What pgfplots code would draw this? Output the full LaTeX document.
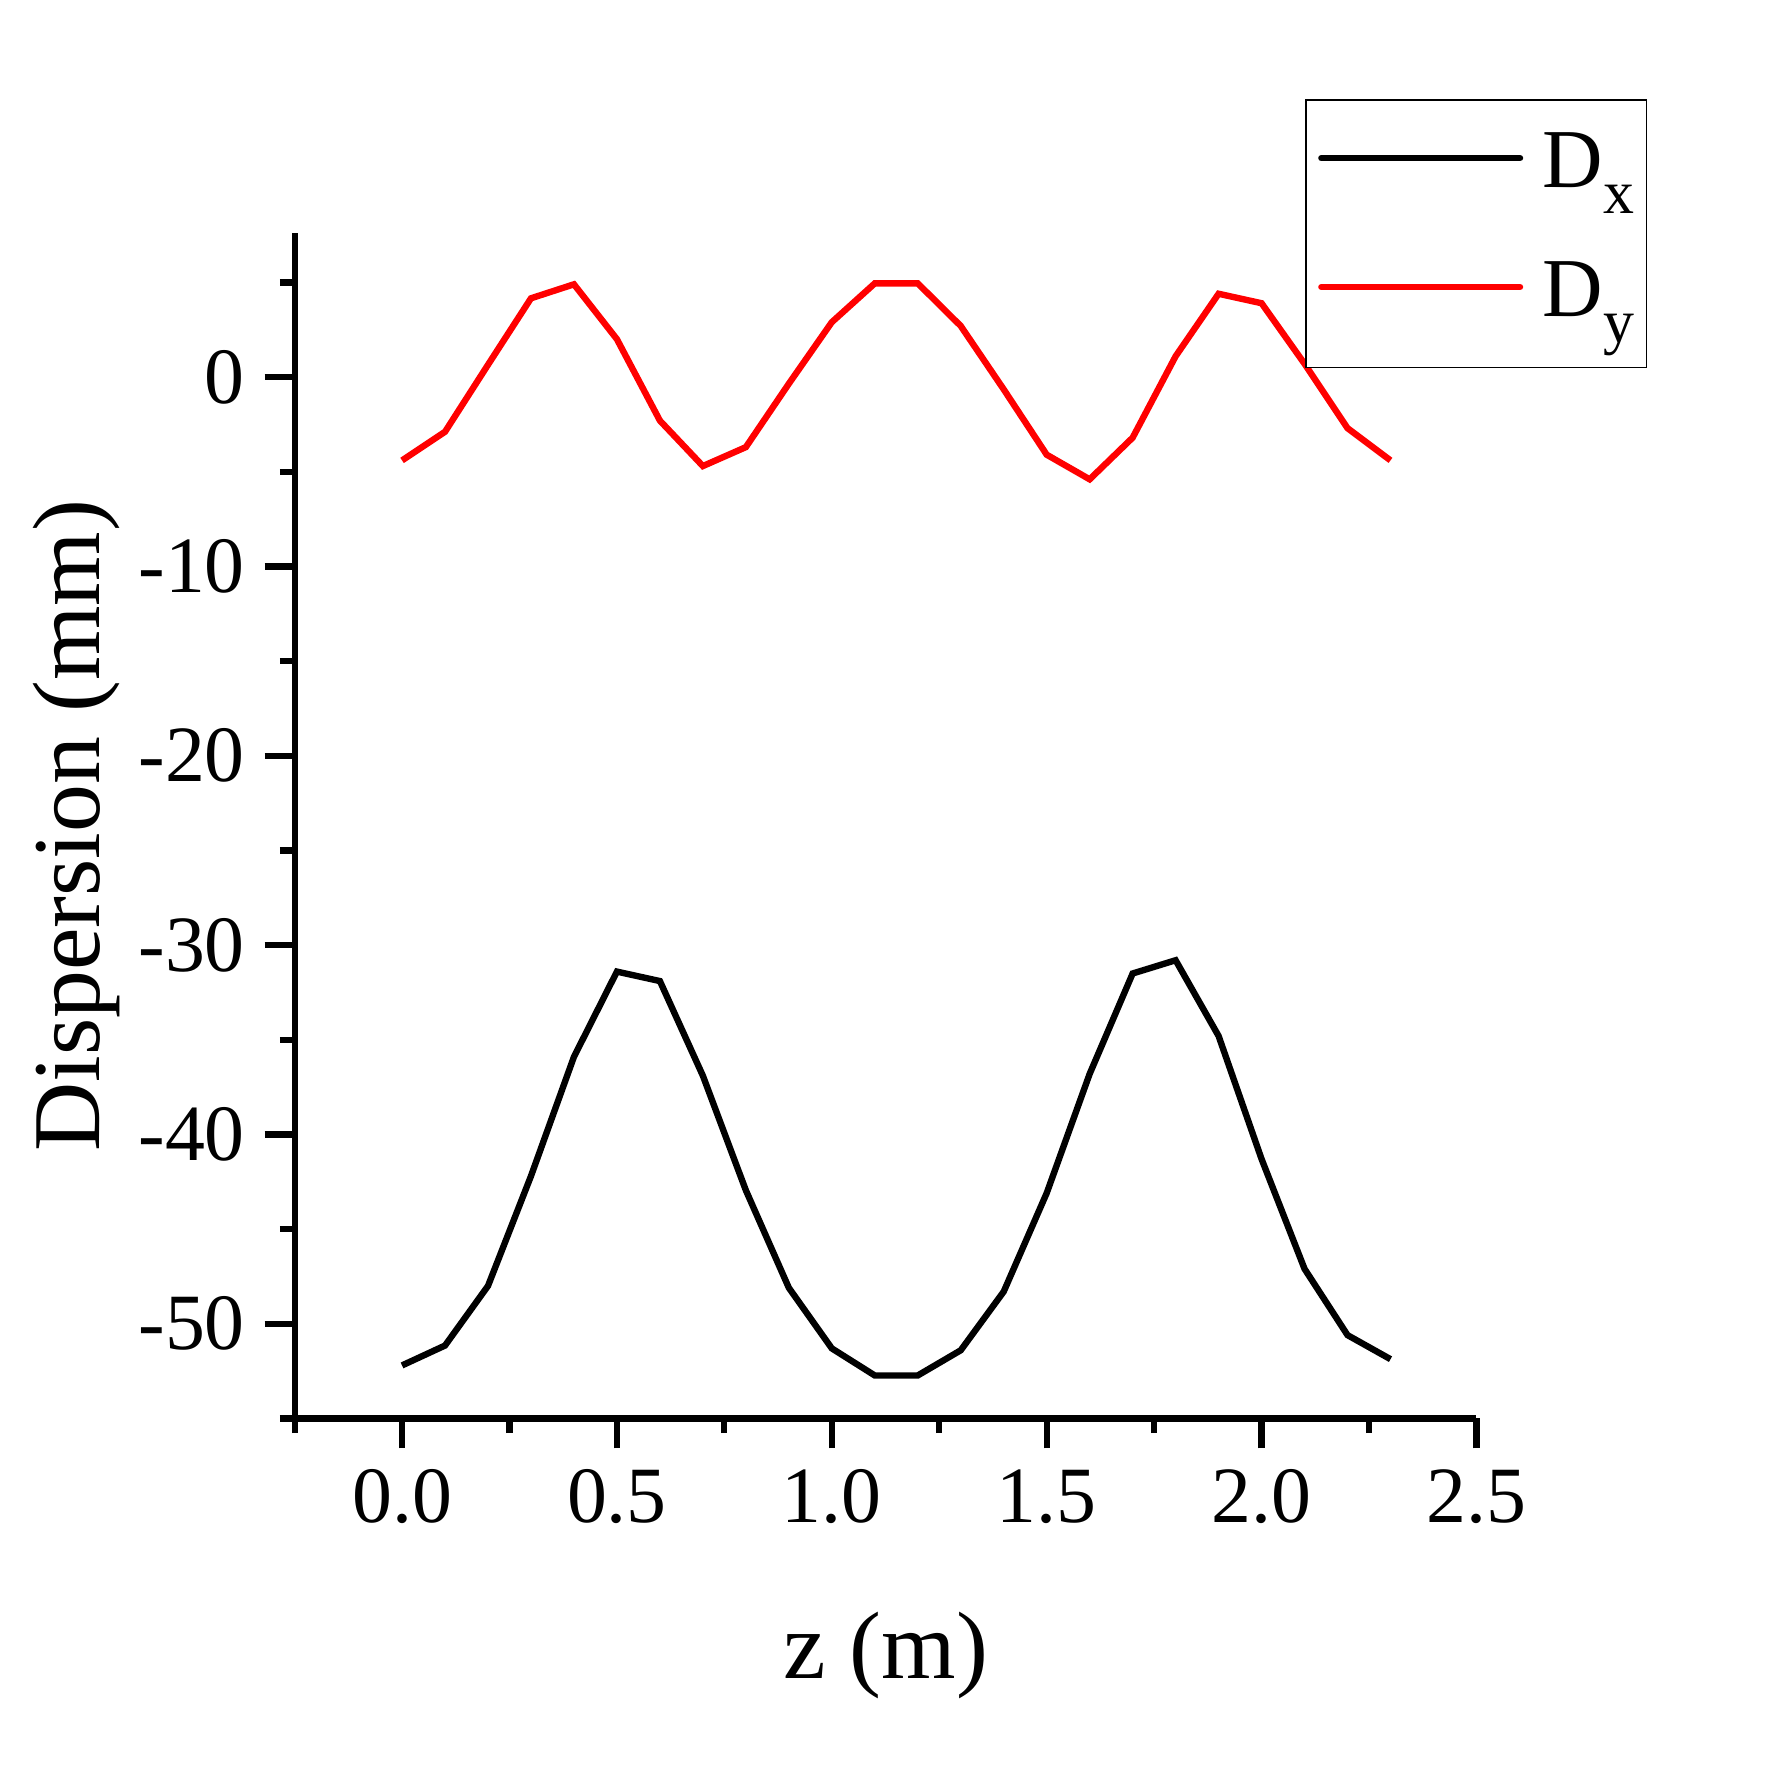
\documentclass[border=0pt]{standalone}
\usepackage{pgfplots}
\pgfplotsset{compat=1.18}
\usepackage{fontspec}
\setmainfont{Liberation Serif}
\newcommand\lsub[1]{\raisebox{-2.3mm}{\fontsize{15.5}{16}\selectfont #1}}
\begin{document}
\begin{tikzpicture}
\useasboundingbox (-25.95mm,-31.23mm) rectangle (130.05mm,124.94mm);
\begin{axis}[
  scale only axis, width=104.1mm, height=104.4mm,
  xmin=-0.25, xmax=2.5, ymin=-55, ymax=7.6,
  axis x line*=bottom, axis y line*=left,
  axis line style={line width=1.55pt, -},
  xtick={0,0.5,1,1.5,2,2.5}, xticklabels={0.0,0.5,1.0,1.5,2.0,2.5},
  minor xtick={-0.25,0.25,0.75,1.25,1.75,2.25},
  ytick={-50,-40,-30,-20,-10,0}, yticklabels={-50,-40,-30,-20,-10,0},
  minor ytick={-55,-45,-35,-25,-15,-5,5},
  xtick align=outside, ytick align=outside,
  major tick length=2.64mm, minor tick length=1.3mm,
  every tick/.style={line width=1.55pt, black},
  ticklabel style={font=\fontsize{20}{22}\selectfont},
  xticklabel style={yshift=-0.6mm},
  yticklabel style={xshift=-0.5mm},
  every axis y label/.style={at={(axis description cs:-0.1652,0.5)}, rotate=90, anchor=base, font=\fontsize{24}{26}\selectfont},
  every axis x label/.style={at={(axis description cs:0.5,-0.2195)}, anchor=base, font=\fontsize{24}{26}\selectfont},
  xlabel={z (m)}, ylabel={Dispersion (mm)},
  legend style={at={(rel axis cs:1.1446,1.1134)}, anchor=north east, draw=black, line width=0.45pt,
    font=\fontsize{21}{22}\selectfont, inner xsep=1.1mm, inner ysep=2.9mm, row sep=4.9mm,
    column sep=1.7mm,
    nodes={inner sep=0pt, text height=4.85mm, text depth=1.6mm},
    cells={anchor=base west}},
  legend image code/.code={\draw[#1, line cap=round] (0.2mm,2.6mm) -- (17.7mm,2.6mm);},
]
\addplot[black, line width=1.6pt] coordinates {
(0.0,-52.2) (0.1,-51.15) (0.2,-48.0) (0.3,-42.2) (0.4,-35.9) (0.5,-31.4)
(0.6,-31.9) (0.7,-36.9) (0.8,-42.95) (0.9,-48.1) (1.0,-51.3) (1.1,-52.73)
(1.2,-52.73) (1.3,-51.4) (1.4,-48.3) (1.5,-43.1) (1.6,-36.8) (1.7,-31.5)
(1.8,-30.8) (1.9,-34.8) (2.0,-41.3) (2.1,-47.1) (2.2,-50.6) (2.3,-51.87)
};
\addlegendentry{D\lsub{x}}
\addplot[red, line width=1.6pt] coordinates {
(0.0,-4.40) (0.1,-2.89) (0.2,0.65) (0.3,4.16) (0.4,4.90) (0.5,2.0)
(0.6,-2.3) (0.7,-4.7) (0.8,-3.7) (0.9,-0.35) (1.0,2.9) (1.1,4.95)
(1.2,4.95) (1.3,2.7) (1.4,-0.65) (1.5,-4.1) (1.6,-5.4) (1.7,-3.2)
(1.8,1.1) (1.9,4.4) (2.0,3.9) (2.1,0.7) (2.2,-2.7) (2.3,-4.4)
};
\addlegendentry{D\lsub{y}}
\end{axis}
\end{tikzpicture}
\end{document}
